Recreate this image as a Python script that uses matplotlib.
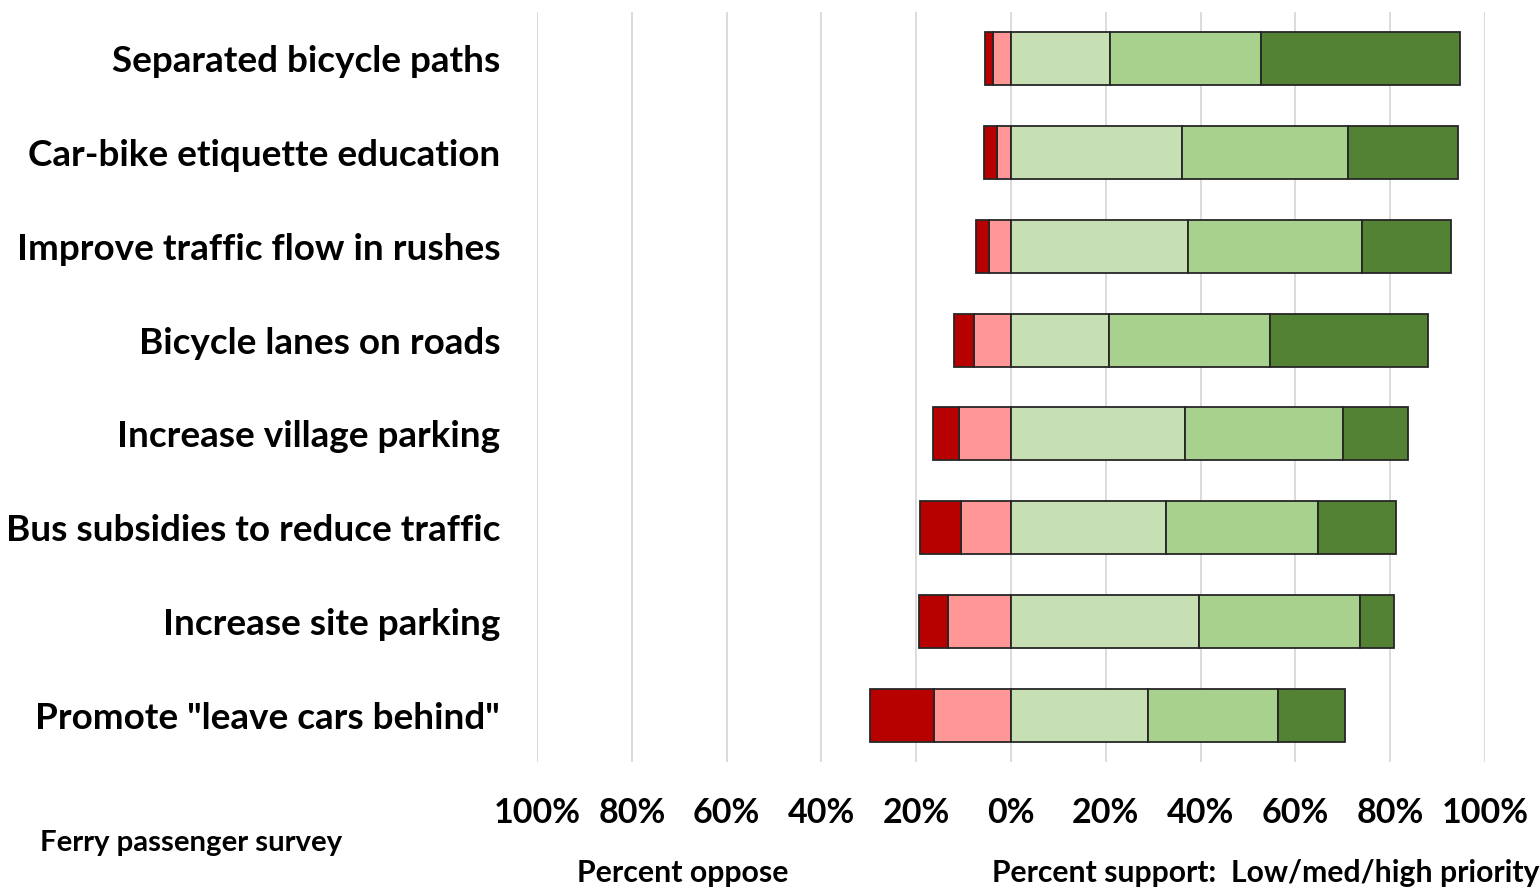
import matplotlib
matplotlib.use("Agg")
import matplotlib.pyplot as plt
from matplotlib.ticker import FuncFormatter

plt.rcParams['font.family'] = ['Lato', 'DejaVu Sans']

categories = [
    "Separated bicycle paths",
    "Car-bike etiquette education",
    "Improve traffic flow in rushes",
    "Bicycle lanes on roads",
    "Increase village parking",
    "Bus subsidies to reduce traffic",
    "Increase site parking",
    'Promote "leave cars behind"',
]

# Percent opposing (split into mild and strong opposition)
oppose_mild = [3.9, 3.0, 4.6, 7.9, 11.0, 10.6, 13.3, 16.3]
oppose_strong = [1.5, 2.7, 2.8, 4.1, 5.4, 8.5, 6.1, 13.4]

# Percent supporting, by priority
support_low = [20.9, 36.0, 37.4, 20.7, 36.7, 32.7, 39.7, 28.9]
support_med = [31.8, 35.0, 36.6, 34.0, 33.3, 32.0, 34.0, 27.5]
support_high = [42.0, 23.4, 18.8, 33.3, 13.8, 16.5, 7.0, 14.1]

xticks = [-100, -80, -60, -40, -20, 0, 20, 40, 60, 80, 100]

c_strong = "#B70000"
c_mild = "#FF9797"
c_low = "#C6E0B4"
c_med = "#A9D18E"
c_high = "#548235"
edge = "#262626"

fig = plt.figure(figsize=(15.4, 8.88), dpi=100)
ax = fig.add_axes([537 / 1540, 1 - 762.4 / 888, 948 / 1540, 750.8 / 888])

y = list(range(len(categories)))
h = 0.565
kw = dict(height=h, edgecolor=edge, linewidth=1.3, zorder=3)

ax.barh(y, [-v for v in oppose_mild], left=0, color=c_mild, **kw)
ax.barh(y, [-v for v in oppose_strong], left=[-v for v in oppose_mild], color=c_strong, **kw)

ax.barh(y, support_low, left=0, color=c_low, **kw)
left_med = support_low
ax.barh(y, support_med, left=left_med, color=c_med, **kw)
left_high = [a + b for a, b in zip(support_low, support_med)]
ax.barh(y, support_high, left=left_high, color=c_high, **kw)

ax.set_xlim(-100, 100)
ax.set_ylim(len(categories) - 0.5, -0.5)
ax.set_xticks(xticks)
ax.xaxis.set_major_formatter(FuncFormatter(lambda v, p: f"{abs(int(round(v)))}%"))
ax.set_yticks(y)
ax.set_yticklabels(categories)

ax.grid(axis="x", color="#D9D9D9", linewidth=1.3, zorder=0)
ax.set_axisbelow(True)
for s in ax.spines.values():
    s.set_visible(False)

ax.tick_params(axis="x", length=0, pad=25, labelsize=24.5)
ax.tick_params(axis="y", length=0, pad=26.5, labelsize=26.6)
for lbl in ax.get_xticklabels() + ax.get_yticklabels():
    lbl.set_fontweight("bold")

fig.text(40 / 1540, 1 - 843 / 888, "Ferry passenger survey", fontsize=21.2,
         fontweight="bold", ha="left", va="center")
fig.text(683 / 1540, 1 - 873 / 888, "Percent oppose", fontsize=21.8,
         fontweight="bold", ha="center", va="center")
fig.text(992 / 1540, 1 - 873 / 888, "Percent support:  Low/med/high priority",
         fontsize=21.7, fontweight="bold", ha="left", va="center")

fig.savefig("out.png", dpi=100, facecolor="white")
